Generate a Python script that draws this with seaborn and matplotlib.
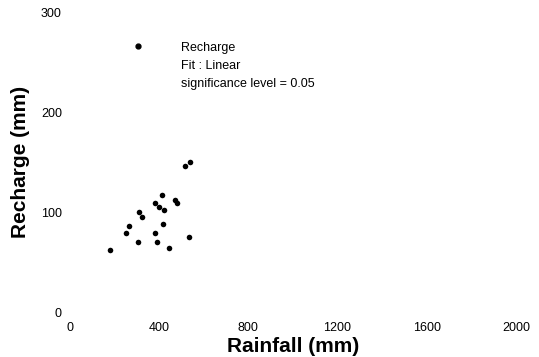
import matplotlib
matplotlib.use("Agg")
import matplotlib.pyplot as plt
from matplotlib.lines import Line2D
import seaborn as sns
import pandas as pd

# Annual rainfall vs. groundwater recharge
rainfall = [181, 253, 265, 306, 312, 327, 384, 390, 384, 399, 414, 417, 425, 447, 474, 480, 519, 539, 534]
recharge = [62, 79, 86, 70, 100, 95, 79, 70, 109, 105, 117, 88, 102, 64, 112, 109, 146, 150, 75]
x_ticks = [0, 400, 800, 1200, 1600, 2000]
y_ticks = [0, 100, 200, 300]
legend_lines = ["Recharge", "Fit : Linear", "significance level = 0.05"]

sns.set_style("white")
plt.rcParams["font.family"] = ["Liberation Sans", "DejaVu Sans"]
plt.rcParams.update({"text.color": "black", "axes.labelcolor": "black",
                     "xtick.color": "black", "ytick.color": "black"})

df = pd.DataFrame({"Rainfall": rainfall, "Recharge": recharge})

fig = plt.figure(figsize=(5.39, 3.57), dpi=100)
ax = fig.add_axes([0.129, 0.126, 0.828, 0.840])

sns.scatterplot(data=df, x="Rainfall", y="Recharge", ax=ax, color="black",
                s=16, edgecolor="black", linewidth=0, legend=False)

ax.set_xlim(0, 2000)
ax.set_ylim(0, 300)
ax.set_xticks(x_ticks)
ax.set_yticks(y_ticks)
ax.tick_params(axis="both", length=0, labelsize=9, colors="black")
ax.tick_params(axis="x", pad=7)
ax.tick_params(axis="y", pad=5.5)
for s in ax.spines.values():
    s.set_visible(False)

ax.set_xlabel("Rainfall (mm)", fontsize=15, fontweight="bold", labelpad=2, color="black")
ax.set_ylabel("Recharge (mm)", fontsize=15, fontweight="bold", labelpad=8, color="black")

handles = [Line2D([], [], linestyle="none", marker="o", color="black", markersize=3.5)]
handles += [Line2D([], [], linestyle="none", marker="") for _ in legend_lines[1:]]
leg = ax.legend(handles, legend_lines, loc="upper left", bbox_to_anchor=(0.1254, 0.902),
                frameon=False, fontsize=9, borderpad=0, borderaxespad=0,
                handlelength=2.0, handletextpad=2.44, labelspacing=0.48)
for t in leg.get_texts():
    t.set_color("black")

fig.savefig("out.png", dpi=100)
